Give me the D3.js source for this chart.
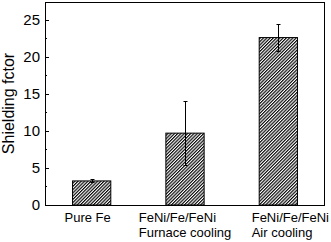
<!DOCTYPE html>
<html>
<head>
<meta charset="utf-8">
<script src="https://cdn.jsdelivr.net/npm/d3@7"></script>
<style>
  body { margin: 0; background: #fff; }
  text { font-family: "Liberation Sans", Arial, sans-serif; fill: #000; }
</style>
</head>
<body>
<div id="chart"></div>
<script>
const categories = [["Pure Fe"], ["FeNi/Fe/FeNi", "Furnace cooling"], ["FeNi/Fe/FeNi", "Air cooling"]];
const values = [3.25, 9.7, 22.6];
const errors = [0.2, 4.3, 1.8];
const yTicks = [0, 5, 10, 15, 20, 25];
const yMinorTicks = [2.5, 7.5, 12.5, 17.5, 22.5];

const W = 331, H = 242;
const margin = { top: 2, right: 6, bottom: 37, left: 45 };
const width = W - margin.left - margin.right;
const height = H - margin.top - margin.bottom;

const svg = d3.select("#chart").append("svg")
  .attr("width", W).attr("height", H);

// hatch pattern for the bars
svg.append("defs").append("pattern")
  .attr("id", "hatch")
  .attr("patternUnits", "userSpaceOnUse")
  .attr("width", 2.3).attr("height", 2.3)
  .attr("patternTransform", "rotate(45)")
  .call(p => {
    p.append("rect").attr("width", 2.3).attr("height", 2.3).attr("fill", "#fff");
    p.append("line").attr("x1", 0.6).attr("y1", 0).attr("x2", 0.6).attr("y2", 2.3)
      .attr("stroke", "#000").attr("stroke-width", 1.15);
  });

const g = svg.append("g").attr("transform", `translate(${margin.left},${margin.top})`);

const x = d3.scaleBand().domain(d3.range(categories.length)).range([0, width]).paddingInner(0.59).paddingOuter(0.295);
const y = d3.scaleLinear().domain([0, 27.4]).range([height, 0]);

// bars
g.selectAll(".bar").data(values).enter().append("rect")
  .attr("x", (d, i) => x(i))
  .attr("y", d => y(d))
  .attr("width", x.bandwidth())
  .attr("height", d => height - y(d))
  .attr("fill", "url(#hatch)")
  .attr("stroke", "#000").attr("stroke-width", 1);

// error bars
const eb = g.selectAll(".err").data(values).enter().append("g")
  .attr("transform", (d, i) => `translate(${Math.round(x(i) + x.bandwidth() / 2) + 0.5},0)`);
eb.append("line")
  .attr("y1", (d, i) => y(d - errors[i])).attr("y2", (d, i) => y(d + errors[i]))
  .attr("stroke", "#000");
eb.append("line")
  .attr("x1", -2).attr("x2", 2)
  .attr("y1", (d, i) => Math.round(y(d + errors[i])) + 0.5).attr("y2", (d, i) => Math.round(y(d + errors[i])) + 0.5)
  .attr("stroke", "#000");
eb.append("line")
  .attr("x1", -2).attr("x2", 2)
  .attr("y1", (d, i) => Math.round(y(d - errors[i])) + 0.5).attr("y2", (d, i) => Math.round(y(d - errors[i])) + 0.5)
  .attr("stroke", "#000");

// y axis ticks (inside) and labels
g.selectAll(".ytick").data(yTicks).enter().append("line")
  .attr("x1", 0).attr("x2", 4)
  .attr("y1", d => Math.round(y(d)) + 0.5).attr("y2", d => Math.round(y(d)) + 0.5)
  .attr("stroke", "#000");
g.selectAll(".ymtick").data(yMinorTicks).enter().append("line")
  .attr("x1", 0).attr("x2", 2)
  .attr("y1", d => Math.round(y(d)) + 0.5).attr("y2", d => Math.round(y(d)) + 0.5)
  .attr("stroke", "#000");
g.selectAll(".ylab").data(yTicks).enter().append("text")
  .attr("x", -5).attr("y", d => y(d)).attr("dy", "0.36em")
  .attr("text-anchor", "end").style("font-size", "15px")
  .text(d => d);

// frame
g.append("rect").attr("x", 0.5).attr("y", 0.5)
  .attr("width", width - 1).attr("height", height)
  .attr("fill", "none").attr("stroke", "#000");

// category labels: left aligned block; the last one is pushed to the right edge
categories.forEach((lines, i) => {
  const t = g.append("text").style("font-size", "13px").attr("y", height + 17);
  lines.forEach((s, k) => t.append("tspan").attr("x", 0).attr("dy", k ? 15 : 0).text(s));
  const w = d3.max(t.selectAll("tspan").nodes(), n => n.getComputedTextLength());
  const cx = x(i) + x.bandwidth() / 2;
  let left = cx - w / 2 - (i === 0 ? 4 : 0);
  if (i === categories.length - 1) left = width + margin.right - 2 - w;
  t.selectAll("tspan").attr("x", left);
});

// y axis title
svg.append("text")
  .attr("transform", `translate(14,${margin.top + height / 2}) rotate(-90)`)
  .attr("text-anchor", "middle").style("font-size", "16px")
  .text("Shielding fctor");
</script>
</body>
</html>
